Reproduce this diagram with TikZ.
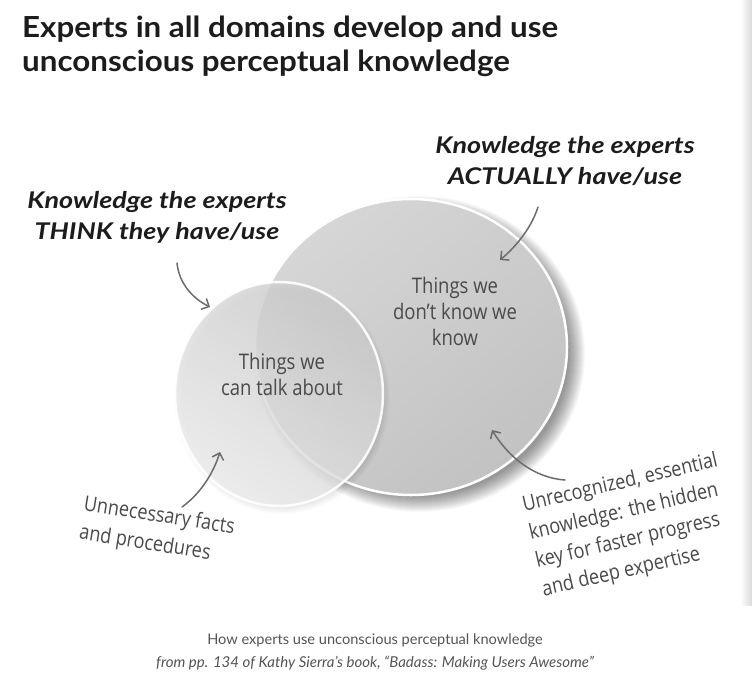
\documentclass[tikz,border=0pt]{standalone}
\usepackage{fontspec}
\usetikzlibrary{arrows.meta}
\newfontfamily\titlefont[FakeStretch=1.08]{Lato}
\newfontfamily\labelfont[FakeStretch=1.17]{Lato}
\newfontfamily\handfont[FakeStretch=0.86]{Open Sans}
\newfontfamily\capfont{Lato}
\definecolor{ink}{HTML}{1C1C1C}
\definecolor{handc}{HTML}{4A4A4A}
\definecolor{arrowc}{HTML}{6C6C6C}
\definecolor{capc}{HTML}{555555}
\definecolor{bigtl}{HTML}{D6D6D6}
\definecolor{bigbr}{HTML}{C2C2C2}
\definecolor{smallur}{HTML}{CDCDCD}
\definecolor{smallll}{HTML}{EEEEEE}
\tikzset{
  titletext/.style={font=\titlefont\bfseries\fontsize{29}{34}\selectfont, text=ink, align=left, inner sep=0pt},
  labeltext/.style={font=\labelfont\bfseries\itshape\fontsize{23}{31}\selectfont, text=ink, align=center, inner sep=0pt},
  handtext/.style={font=\handfont\fontsize{21.5}{26}\selectfont, text=handc, inner sep=0pt},
  notetext/.style={font=\handfont\fontsize{21}{29}\selectfont, text=handc, inner sep=0pt, align=left},
  captext/.style={font=\capfont\fontsize{14.6}{23}\selectfont, text=capc, inner sep=0pt},
  pointer/.style={draw=arrowc, line width=1.5pt, line cap=round, -{Straight Barb[length=6pt,width=12pt,line width=1.5pt]}},
}
\begin{document}
\begin{tikzpicture}[x=1pt,y=-1pt]
\useasboundingbox (0,0) rectangle (752,678);
\fill[white] (0,0) rectangle (752,678);
\shade[left color=white, right color=black!14] (740,0) rectangle (752,605);

% title
\node[titletext, anchor=north west] (title) at (22,16) {Experts in all domains develop and use\\unconscious perceptual knowledge};

% shadow of big circle
\foreach \i in {0,...,16} {
  \fill[black, opacity=0.026] (419,354) ellipse [x radius={150+\i*1.0}, y radius={142+\i*1.0}];
}
% big circle
\shade[top color=bigtl, bottom color=bigbr, shading angle=40] (411,347) ellipse [x radius=156, y radius=148];
\draw[white, line width=2.5pt] (411,347) ellipse [x radius=156, y radius=148];

% shadow of small circle
\foreach \i in {0,...,8} {
  \fill[black, opacity=0.012] (282,398) ellipse [x radius={100+\i*1.0}, y radius={108+\i*1.0}];
}
% small circle
\shade[top color=smallur, bottom color=smallll, shading angle=-35, fill opacity=0.8] (279,394) ellipse [x radius=104, y radius=112];
\draw[white, line width=2.5pt, opacity=0.9] (279,394) ellipse [x radius=104, y radius=112];

% circle texts
\node[handtext, align=center] (dk) at (455,311) {Things we\\don’t know we\\know};
\node[handtext, align=center] (ct) at (282,374) {Things we\\can talk about};

% labels
\node[labeltext, anchor=base] (think) at (157,239) {Knowledge the experts\\THINK \textit{they have/use}};
\node[labeltext, anchor=base] (actual) at (565,184) {Knowledge the experts\\ACTUALLY \textit{have/use}};

% side notes
\node[notetext, rotate=-9] (unn) at (157,531) {Unnecessary facts\\and procedures};
\node[notetext, rotate=13] (unr) at (630,526) {Unrecognized, essential\\knowledge: the hidden\\key for faster progress\\and deep expertise};

% arrows
\coordinate (a1s) at (538,207); \coordinate (a1e) at (500,260);
\coordinate (a2s) at (177,263); \coordinate (a2e) at (210,307);
\coordinate (a3s) at (182,507); \coordinate (a3e) at (220,452);
\coordinate (a4s) at (565,480); \coordinate (a4e) at (492,430);
\draw[pointer] (a1s) .. controls (532,226) and (518,245) .. (a1e);
\draw[pointer] (a2s) .. controls (179,283) and (192,298) .. (a2e);
\draw[pointer] (a3s) .. controls (200,494) and (213,474) .. (a3e);
\draw[pointer] (a4s) .. controls (535,478) and (509,458) .. (a4e);

% caption
\node[captext, anchor=base] (cap1) at (375,644) {How experts use unconscious perceptual knowledge};
\node[captext, anchor=base, font=\capfont\itshape\fontsize{15}{23}\selectfont] (cap2) at (375,667) {from pp. 134 of Kathy Sierra’s book, “Badass: Making Users Awesome”};
\end{tikzpicture}
\end{document}
